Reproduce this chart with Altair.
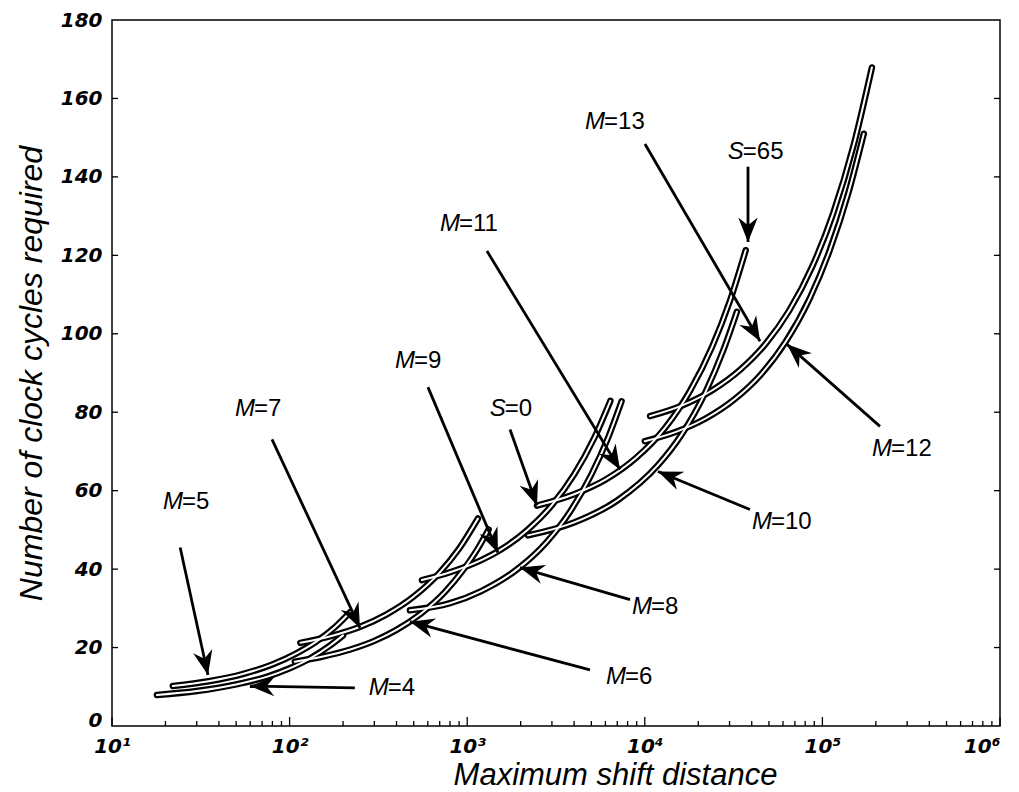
import altair as alt
import pandas as pd
import numpy as np

W, H = 888, 706

# ---------------- curves: (maximum shift distance, clock cycles) ----------------
curve_names = ["M4", "M5", "M6", "M7", "M8", "M9", "M10", "M11", "M12", "M13"]
m4_x = [17.9, 30, 50, 75, 100, 130, 170, 200]
m4_y = [7.9, 8.9, 10.6, 12.6, 14.7, 17.2, 20.6, 23.1]
m5_x = [22, 35, 55, 80, 110, 140, 180, 219]
m5_y = [10.2, 11.4, 13.3, 15.7, 18.6, 21.4, 25.2, 29.0]
m6_x = [107, 150, 220, 300, 400, 550, 750, 950, 1150, 1320]
m6_y = [16.4, 17.6, 19.5, 21.7, 24.5, 28.7, 34.2, 39.8, 45.3, 50.1]
m7_x = [115, 170, 250, 350, 500, 700, 900, 1150]
m7_y = [21.2, 22.9, 25.3, 28.4, 33.0, 39.1, 45.2, 52.9]
m8_x = [476, 800, 1200, 1980, 2800, 3800, 5000, 6200, 7400]
m8_y = [29.5, 31.3, 34.4, 40.5, 46.9, 54.7, 64.1, 73.4, 82.8]
m9_x = [556, 800, 1200, 1500, 2200, 3000, 4000, 5200, 6400]
m9_y = [37.2, 39.2, 42.3, 44.6, 50.1, 56.3, 64.1, 73.5, 82.9]
m10_x = [2200, 4000, 7000, 11860, 16000, 22000, 28000, 33000]
m10_y = [48.6, 51.9, 57.5, 66.5, 74.1, 85.2, 96.4, 105.6]
m11_x = [2472, 4000, 6000, 9000, 13000, 18000, 24000, 30000, 37000]
m11_y = [56.2, 59.1, 62.8, 68.5, 76.0, 85.5, 96.8, 108.1, 121.3]
m12_x = [10000, 15000, 22000, 32000, 45000, 62000, 85000, 110000, 140000, 171000]
m12_y = [72.6, 75.0, 78.4, 83.3, 89.6, 97.9, 109.1, 121.3, 135.9, 151.0]
m13_x = [10700, 16000, 24000, 35000, 48000, 65000, 88000, 115000, 150000, 190000]
m13_y = [79.0, 81.6, 85.6, 91.1, 97.5, 105.9, 117.3, 130.7, 148.1, 167.9]

curve_xs = [m4_x, m5_x, m6_x, m7_x, m8_x, m9_x, m10_x, m11_x, m12_x, m13_x]
curve_ys = [m4_y, m5_y, m6_y, m7_y, m8_y, m9_y, m10_y, m11_y, m12_y, m13_y]

rows = []
for name, xs, ys in zip(curve_names, curve_xs, curve_ys):
    for i, (a, b) in enumerate(zip(xs, ys)):
        rows.append({"curve": name, "x": a, "y": b, "o": i})
curves = pd.DataFrame(rows)

# ---------------- annotations ----------------
ann_letter = ["M", "M", "M", "S", "M", "M", "S", "M", "M", "M", "M", "M"]
ann_value = ["=5", "=7", "=9", "=0", "=11", "=13", "=65", "=12", "=10", "=8", "=6", "=4"]
ann_x = [25.1, 63.8, 508, 1650, 910, 5970, 36100, 246600, 52000, 10980, 7840, 362]
ann_y = [57.2, 80.7, 93.0, 80.7, 128.0, 154.1, 146.4, 70.5, 52.1, 30.4, 12.5, 9.7]
# arrow tails and tips
arr_x1 = [24.2, 79.6, 601, 1742, 1292, 10020, 38110, 211000, 39090, 8260, 4912, 233]
arr_y1 = [45.5, 73.1, 86.4, 75.6, 121.1, 148.4, 142.6, 76.4, 55.2, 32.2, 14.3, 9.7]
arr_x2 = [34.7, 249, 1490, 2472, 7248, 44560, 38110, 63240, 11860, 1982, 476, 59.8]
arr_y2 = [13.0, 25.0, 44.2, 56.2, 65.4, 98.1, 123.4, 97.3, 64.9, 40.4, 26.6, 10.2]


def px(v):
    return W * (np.log10(v) - 1) / 5


def py(v):
    return H * (1 - np.asarray(v) / 180)


dxp = px(np.array(arr_x2)) - px(np.array(arr_x1))
dyp = py(arr_y2) - py(arr_y1)
angles = (np.degrees(np.arctan2(dxp, -dyp)) + 360) % 360

arrows = pd.DataFrame({"x1": arr_x1, "y1": arr_y1, "x2": arr_x2, "y2": arr_y2, "angle": angles})
labels = pd.DataFrame({"letter": ann_letter, "val": ann_value, "x": ann_x, "y": ann_y})

# tick positions
major_ticks = [10, 100, 1000, 10000, 100000, 1000000]
minor_ticks = [m * d for d in [10, 100, 1000, 10000, 100000] for m in range(2, 10)]
y_ticks = [20, 40, 60, 80, 100, 120, 140, 160]

xscale = alt.Scale(type="log", domain=[10, 1000000], nice=False)
yscale = alt.Scale(domain=[0, 180], nice=False)

sup = "['⁰','¹','²','³','⁴','⁵','⁶'][round(log(datum.value)/LN10)]"

base = alt.Chart(curves).encode(
    x=alt.X(
        "x:Q",
        scale=xscale,
        axis=alt.Axis(
            values=major_ticks,
            labelExpr="'10' + " + sup,
            title="Maximum shift distance",
            grid=False,
            domain=False,
            ticks=False,
            labelFont="DejaVu Sans",
            labelFontStyle="italic",
            labelFontWeight="bold",
            labelFontSize=20,
            labelPadding=10,
            labelColor="black",
            labelAlign={"condition": {"test": "datum.value >= 1000000", "value": "right"}, "value": "center"},
            titleFont="Liberation Sans",
            titleFontStyle="italic",
            titleFontWeight="normal",
            titleFontSize=31,
            titleColor="black",
            titlePadding=4,
            titleX=503,
            labelFlush=False,
        ),
    ),
    y=alt.Y(
        "y:Q",
        scale=yscale,
        axis=alt.Axis(
            values=[0, 20, 40, 60, 80, 100, 120, 140, 160, 180],
            title="Number of clock cycles required",
            grid=False,
            domain=False,
            ticks=False,
            labelFont="DejaVu Sans",
            labelFontStyle="italic",
            labelFontWeight="bold",
            labelFontSize=20,
            labelPadding=10,
            labelColor="black",
            labelBaseline={"condition": {"test": "datum.value == 0", "value": "alphabetic"}, "value": "middle"},
            titleFont="Liberation Sans",
            titleFontStyle="italic",
            titleFontWeight="normal",
            titleFontSize=32,
            titleColor="black",
            titlePadding=12,
            labelFlush=False,
        ),
    ),
    detail="curve:N",
    order="o:Q",
)

outer = base.mark_line(color="black", strokeWidth=6.5, interpolate="monotone", strokeCap="round")
inner = base.mark_line(color="white", strokeWidth=2.0, interpolate="monotone", strokeCap="round")

shafts = alt.Chart(arrows).mark_rule(color="black", strokeWidth=2.8).encode(
    x=alt.X("x1:Q", scale=xscale), y=alt.Y("y1:Q", scale=yscale),
    x2="x2:Q", y2="y2:Q",
)
heads = alt.Chart(arrows).mark_point(
    shape="M0,0 L0.4,1 L0,0.68 L-0.4,1 Z", filled=True, color="black", opacity=1, size=2400
).encode(
    x=alt.X("x2:Q", scale=xscale), y=alt.Y("y2:Q", scale=yscale),
    angle=alt.Angle("angle:Q", scale=None),
)

txt_letter = alt.Chart(labels).mark_text(
    font="Liberation Sans", fontSize=24, fontStyle="italic", align="right", baseline="middle", color="black"
).encode(x=alt.X("x:Q", scale=xscale), y=alt.Y("y:Q", scale=yscale), text="letter:N")
txt_val = alt.Chart(labels).mark_text(
    font="Liberation Sans", fontSize=24, align="left", baseline="middle", color="black", dx=-1
).encode(x=alt.X("x:Q", scale=xscale), y=alt.Y("y:Q", scale=yscale), text="val:N")

# inward ticks
xt_major = alt.Chart(pd.DataFrame({"t": major_ticks})).mark_rule(color="black", strokeWidth=1.3).encode(
    x=alt.X("t:Q", scale=xscale), y=alt.value(H), y2=alt.value(H - 9)
)
xt_minor = alt.Chart(pd.DataFrame({"t": minor_ticks})).mark_rule(color="black", strokeWidth=1.3).encode(
    x=alt.X("t:Q", scale=xscale), y=alt.value(H), y2=alt.value(H - 5)
)
yt_left = alt.Chart(pd.DataFrame({"t": y_ticks})).mark_rule(color="black", strokeWidth=1.3).encode(
    y=alt.Y("t:Q", scale=yscale), x=alt.value(0), x2=alt.value(6)
)
yt_right = alt.Chart(pd.DataFrame({"t": y_ticks})).mark_rule(color="black", strokeWidth=1.3).encode(
    y=alt.Y("t:Q", scale=yscale), x=alt.value(W), x2=alt.value(W - 6)
)

chart = alt.layer(
    outer, inner, shafts, heads, txt_letter, txt_val, xt_major, xt_minor, yt_left, yt_right
).properties(
    width=W, height=H,
    autosize=alt.AutoSizeParams(type="none"),
    padding={"left": 112, "top": 20, "right": 19, "bottom": 66},
    background="white",
).configure_view(stroke="black", strokeWidth=1.5)

chart.save("out.html", embed_options={"renderer": "svg", "actions": False})
